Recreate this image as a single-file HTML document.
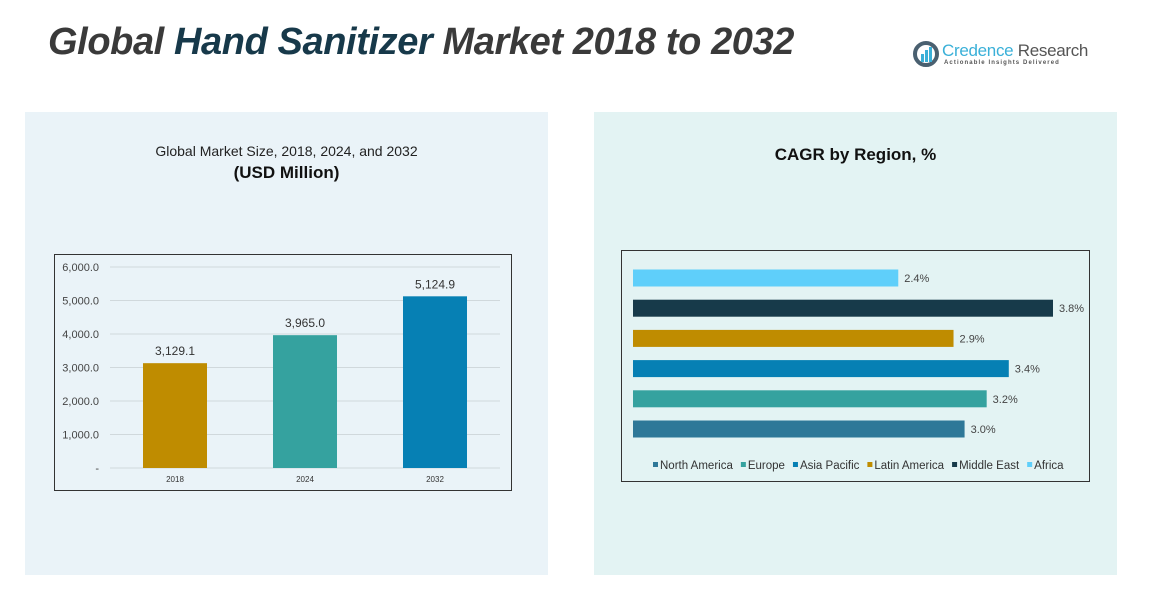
<!DOCTYPE html>
<html><head><meta charset="utf-8">
<style>
body{margin:0;width:1163px;height:616px;background:#fff;position:relative;overflow:hidden;font-family:"Liberation Sans",sans-serif;}
.abs{position:absolute;}
</style></head>
<body>
<div class="abs" style="left:48px;top:21px;font-size:38px;font-weight:bold;font-style:italic;color:#3a3a3a;letter-spacing:-0.4px;white-space:nowrap;">Global <span style="color:#17394a">Hand Sanitizer</span> Market 2018 to 2032</div>
<div class="abs" style="left:912px;top:40px;width:180px;height:30px;">
  <svg width="30" height="30" class="abs" style="left:0;top:0"><circle cx="14" cy="14" r="11" fill="none" stroke="#4a6070" stroke-width="4"/><rect x="9" y="14" width="3" height="8" fill="#3ab0d8"/><rect x="13" y="10" width="3" height="12" fill="#3ab0d8"/><rect x="17" y="7" width="3" height="15" fill="#3ab0d8"/></svg>
  <div class="abs" style="left:30px;top:1px;font-size:17px;color:#3ab0d8;white-space:nowrap;letter-spacing:-0.3px;">Credence <span style="color:#555">Research</span></div>
  <div class="abs" style="left:32px;top:20px;font-size:6px;letter-spacing:1.1px;color:#555;white-space:nowrap;font-weight:bold;">Actionable Insights Delivered</div>
</div>
<div class="abs" style="left:25px;top:112px;width:523px;height:463px;background:#eaf3f8;"></div>
<div class="abs" style="left:594px;top:112px;width:523px;height:463px;background:#e3f3f3;"></div>
<div class="abs" style="left:25px;top:143px;width:523px;text-align:center;font-size:14px;color:#222;">Global Market Size, 2018, 2024, and 2032</div>
<div class="abs" style="left:25px;top:163px;width:523px;text-align:center;font-size:17px;font-weight:bold;color:#111;">(USD Million)</div>
<div class="abs" style="left:594px;top:145px;width:523px;text-align:center;font-size:17px;font-weight:bold;color:#111;">CAGR by Region, %</div>

<svg class="abs" style="left:0;top:0" width="1163" height="616" id="charts">
<rect x="54.5" y="254.5" width="457" height="236" fill="none" stroke="#333" stroke-width="1"/>
<rect x="621.5" y="250.5" width="468" height="231" fill="none" stroke="#333" stroke-width="1"/>
<g id="bar-g"></g><g id="hbar-g"></g>
</svg>
<script>
const years=["2018","2024","2032"];
const sizes=[3129.1,3965.0,5124.9];
const sizeLabels=["3,129.1","3,965.0","5,124.9"];
const yTicks=[0,1000,2000,3000,4000,5000,6000];
const yTickLabels=["-","1,000.0","2,000.0","3,000.0","4,000.0","5,000.0","6,000.0"];
const barColors=["#bf8c00","#35a29f","#0680b4"];
const regions=["North America","Europe","Asia Pacific","Latin America","Middle East","Africa"];
const cagr=[3.0,3.2,3.4,2.9,3.8,2.4];
const cagrLabels=["3.0%","3.2%","3.4%","2.9%","3.8%","2.4%"];
const regionColors=["#2e7898","#35a29f","#0680b4","#bf8c00","#173a4a","#5fcffa"];
const NS="http://www.w3.org/2000/svg";
function mk(t,a,p){const e=document.createElementNS(NS,t);for(const k in a)e.setAttribute(k,a[k]);p.appendChild(e);return e;}
const y=v=>468-v*(201/6000);
const x=i=>175+i*130;
const g=document.getElementById('bar-g');
yTicks.forEach((t,i)=>{
  const l=mk('line',{x1:110,x2:500,y1:y(t),y2:y(t),stroke:'#d0d8dc','stroke-width':1},g);
  
  
  const tx=mk('text',{x:99,y:y(t)+4,'text-anchor':'end','font-size':11,fill:'#444'},g);tx.textContent=yTickLabels[i];
  
  
});
years.forEach((yr,i)=>{
  const r=mk('rect',{x:x(i)-32,y:y(sizes[i]),width:64,height:y(0)-y(sizes[i]),fill:barColors[i]},g);
  
  
  const v=mk('text',{x:x(i),y:y(sizes[i])-8,'text-anchor':'middle','font-size':12,fill:'#333'},g);v.textContent=sizeLabels[i];
  
  
  const c=mk('text',{x:x(i),y:482,'text-anchor':'middle','font-size':8,fill:'#333'},g);c.textContent=yr;
  
  
});
const h=document.getElementById('hbar-g');
const hx=v=>633+v*(420/3.8);
const hy=i=>429-i*30.2;
regions.forEach((r,i)=>{
  const b=mk('rect',{x:633,y:hy(i)-8.5,width:hx(cagr[i])-633,height:17,fill:regionColors[i]},h);
  
  
  const t=mk('text',{x:hx(cagr[i])+6,y:hy(i)+4,'font-size':11,fill:'#444'},h);t.textContent=cagrLabels[i];
  
  
});
let lx=653;
regions.forEach((r,i)=>{
  const s=mk('rect',{x:lx,y:462,width:5,height:5,fill:regionColors[i]},h);
  
  
  const t=mk('text',{x:lx+7,y:469,'font-size':11.5,fill:'#333'},h);t.textContent=r;
  
  
  lx+=7+t.getComputedTextLength()+8;
});
</script>
</body></html>
